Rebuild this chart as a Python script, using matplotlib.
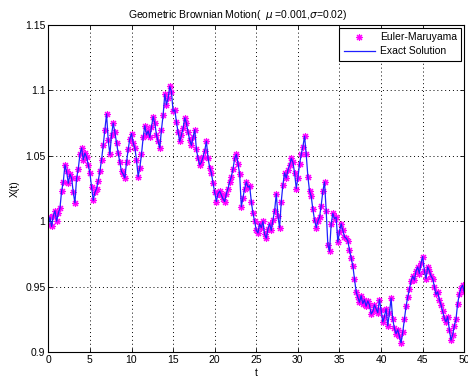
import matplotlib
matplotlib.use("Agg")
import matplotlib.pyplot as plt
import numpy as np

plt.rcParams['font.family'] = ['Liberation Sans', 'DejaVu Sans']

# sample path of X(t), dt = 0.2 on [0, 50]
x_em = [
    0.997, 1.003, 0.996, 1.004, 1.008, 1.000, 1.006, 1.010, 1.023, 1.030,
    1.043, 1.038, 1.029, 1.036, 1.033, 1.022, 1.014, 1.033, 1.040, 1.051,
    1.056, 1.047, 1.052, 1.049, 1.043, 1.037, 1.026, 1.016, 1.022, 1.025,
    1.031, 1.038, 1.047, 1.058, 1.070, 1.082, 1.062, 1.051, 1.066, 1.075,
    1.068, 1.060, 1.052, 1.045, 1.038, 1.036, 1.033, 1.045, 1.055, 1.063,
    1.067, 1.060, 1.056, 1.047, 1.034, 1.041, 1.051, 1.064, 1.073, 1.066,
    1.069, 1.064, 1.072, 1.080, 1.075, 1.066, 1.061, 1.056, 1.070, 1.081,
    1.097, 1.089, 1.094, 1.103, 1.099, 1.084, 1.085, 1.076, 1.068, 1.061,
    1.066, 1.071, 1.079, 1.075, 1.068, 1.062, 1.058, 1.064, 1.070, 1.055,
    1.048, 1.043, 1.045, 1.049, 1.054, 1.061, 1.048, 1.041, 1.037, 1.029,
    1.022, 1.015, 1.021, 1.023, 1.020, 1.017, 1.015, 1.021, 1.025, 1.030,
    1.034, 1.040, 1.048, 1.051, 1.044, 1.036, 1.011, 1.018, 1.025, 1.030,
    1.026, 1.027, 1.015, 1.006, 1.000, 0.993, 0.991, 0.998, 0.995, 1.000,
    0.990, 0.987, 0.994, 0.998, 0.993, 1.001, 1.008, 1.021, 1.004, 0.995,
    1.015, 1.028, 1.037, 1.033, 1.039, 1.043, 1.048, 1.045, 1.037, 1.025,
    1.033, 1.044, 1.051, 1.057, 1.065, 1.051, 1.034, 1.023, 1.019, 1.009,
    1.001, 0.995, 1.000, 1.003, 1.012, 1.023, 1.030, 1.008, 0.982, 0.977,
    0.998, 1.006, 1.002, 1.003, 0.984, 0.992, 0.998, 0.993, 0.988, 0.987,
    0.985, 0.978, 0.972, 0.966, 0.956, 0.946, 0.942, 0.938, 0.943, 0.937,
    0.940, 0.935, 0.939, 0.936, 0.929, 0.931, 0.936, 0.933, 0.930, 0.940,
    0.932, 0.923, 0.927, 0.933, 0.920, 0.930, 0.941, 0.925, 0.918, 0.914,
    0.917, 0.912, 0.907, 0.915, 0.925, 0.935, 0.942, 0.948, 0.954, 0.958,
    0.955, 0.962, 0.965, 0.960, 0.968, 0.973, 0.962, 0.956, 0.965, 0.962,
    0.958, 0.956, 0.950, 0.944, 0.946, 0.940, 0.936, 0.931, 0.926, 0.923,
    0.927, 0.917, 0.909, 0.913, 0.920, 0.925, 0.937, 0.944, 0.949, 0.951,
    0.946,
]
x_exact = list(x_em)

t = np.linspace(0, 50, len(x_em))

xticks = [0, 5, 10, 15, 20, 25, 30, 35, 40, 45, 50]
yticks = [0.9, 0.95, 1.0, 1.05, 1.1, 1.15]
ytick_labels = ['0.9', '0.95', '1', '1.05', '1.1', '1.15']

fig = plt.figure(figsize=(4.68, 3.78), dpi=100)
ax = fig.add_axes([48.3 / 468, 26 / 378, 416 / 468, 327 / 378])

ax.plot(t, x_em, linestyle='none', marker=(8, 2, 0), markersize=5,
        markeredgewidth=0.8, color='#ff00ff', label='Euler-Maruyama')
ax.plot(t, x_exact, color='#1f1fff', linewidth=0.9, label='Exact Solution')

ax.set_xlim(0, 50)
ax.set_ylim(0.9, 1.15)
ax.set_xticks(xticks)
ax.set_yticks(yticks)
ax.set_yticklabels(ytick_labels)
ax.tick_params(direction='in', top=True, right=True, labelsize=7.5,
               length=3, width=0.6, pad=2)
ax.grid(True, linestyle=(0, (1, 3)), color='black', linewidth=0.7)
for s in ax.spines.values():
    s.set_linewidth(0.8)

ax.set_xlabel('t', fontsize=7.5, labelpad=2)
ax.set_ylabel('X(t)', fontsize=7.5, labelpad=4)
fig.text(238 / 468, 1 - 15 / 378, r'Geometric Brownian Motion(  $\mu$ =0.001,$\sigma$=0.02)',
         ha='center', va='center', fontsize=7.5)

leg = ax.legend(loc='upper right', fontsize=7.5, fancybox=False,
                framealpha=1, edgecolor='black', borderaxespad=0.3,
                handlelength=3.0, borderpad=0.4, labelspacing=0.4,
                handletextpad=0.5)
leg.get_frame().set_linewidth(0.8)

fig.savefig('out.png', dpi=100)
